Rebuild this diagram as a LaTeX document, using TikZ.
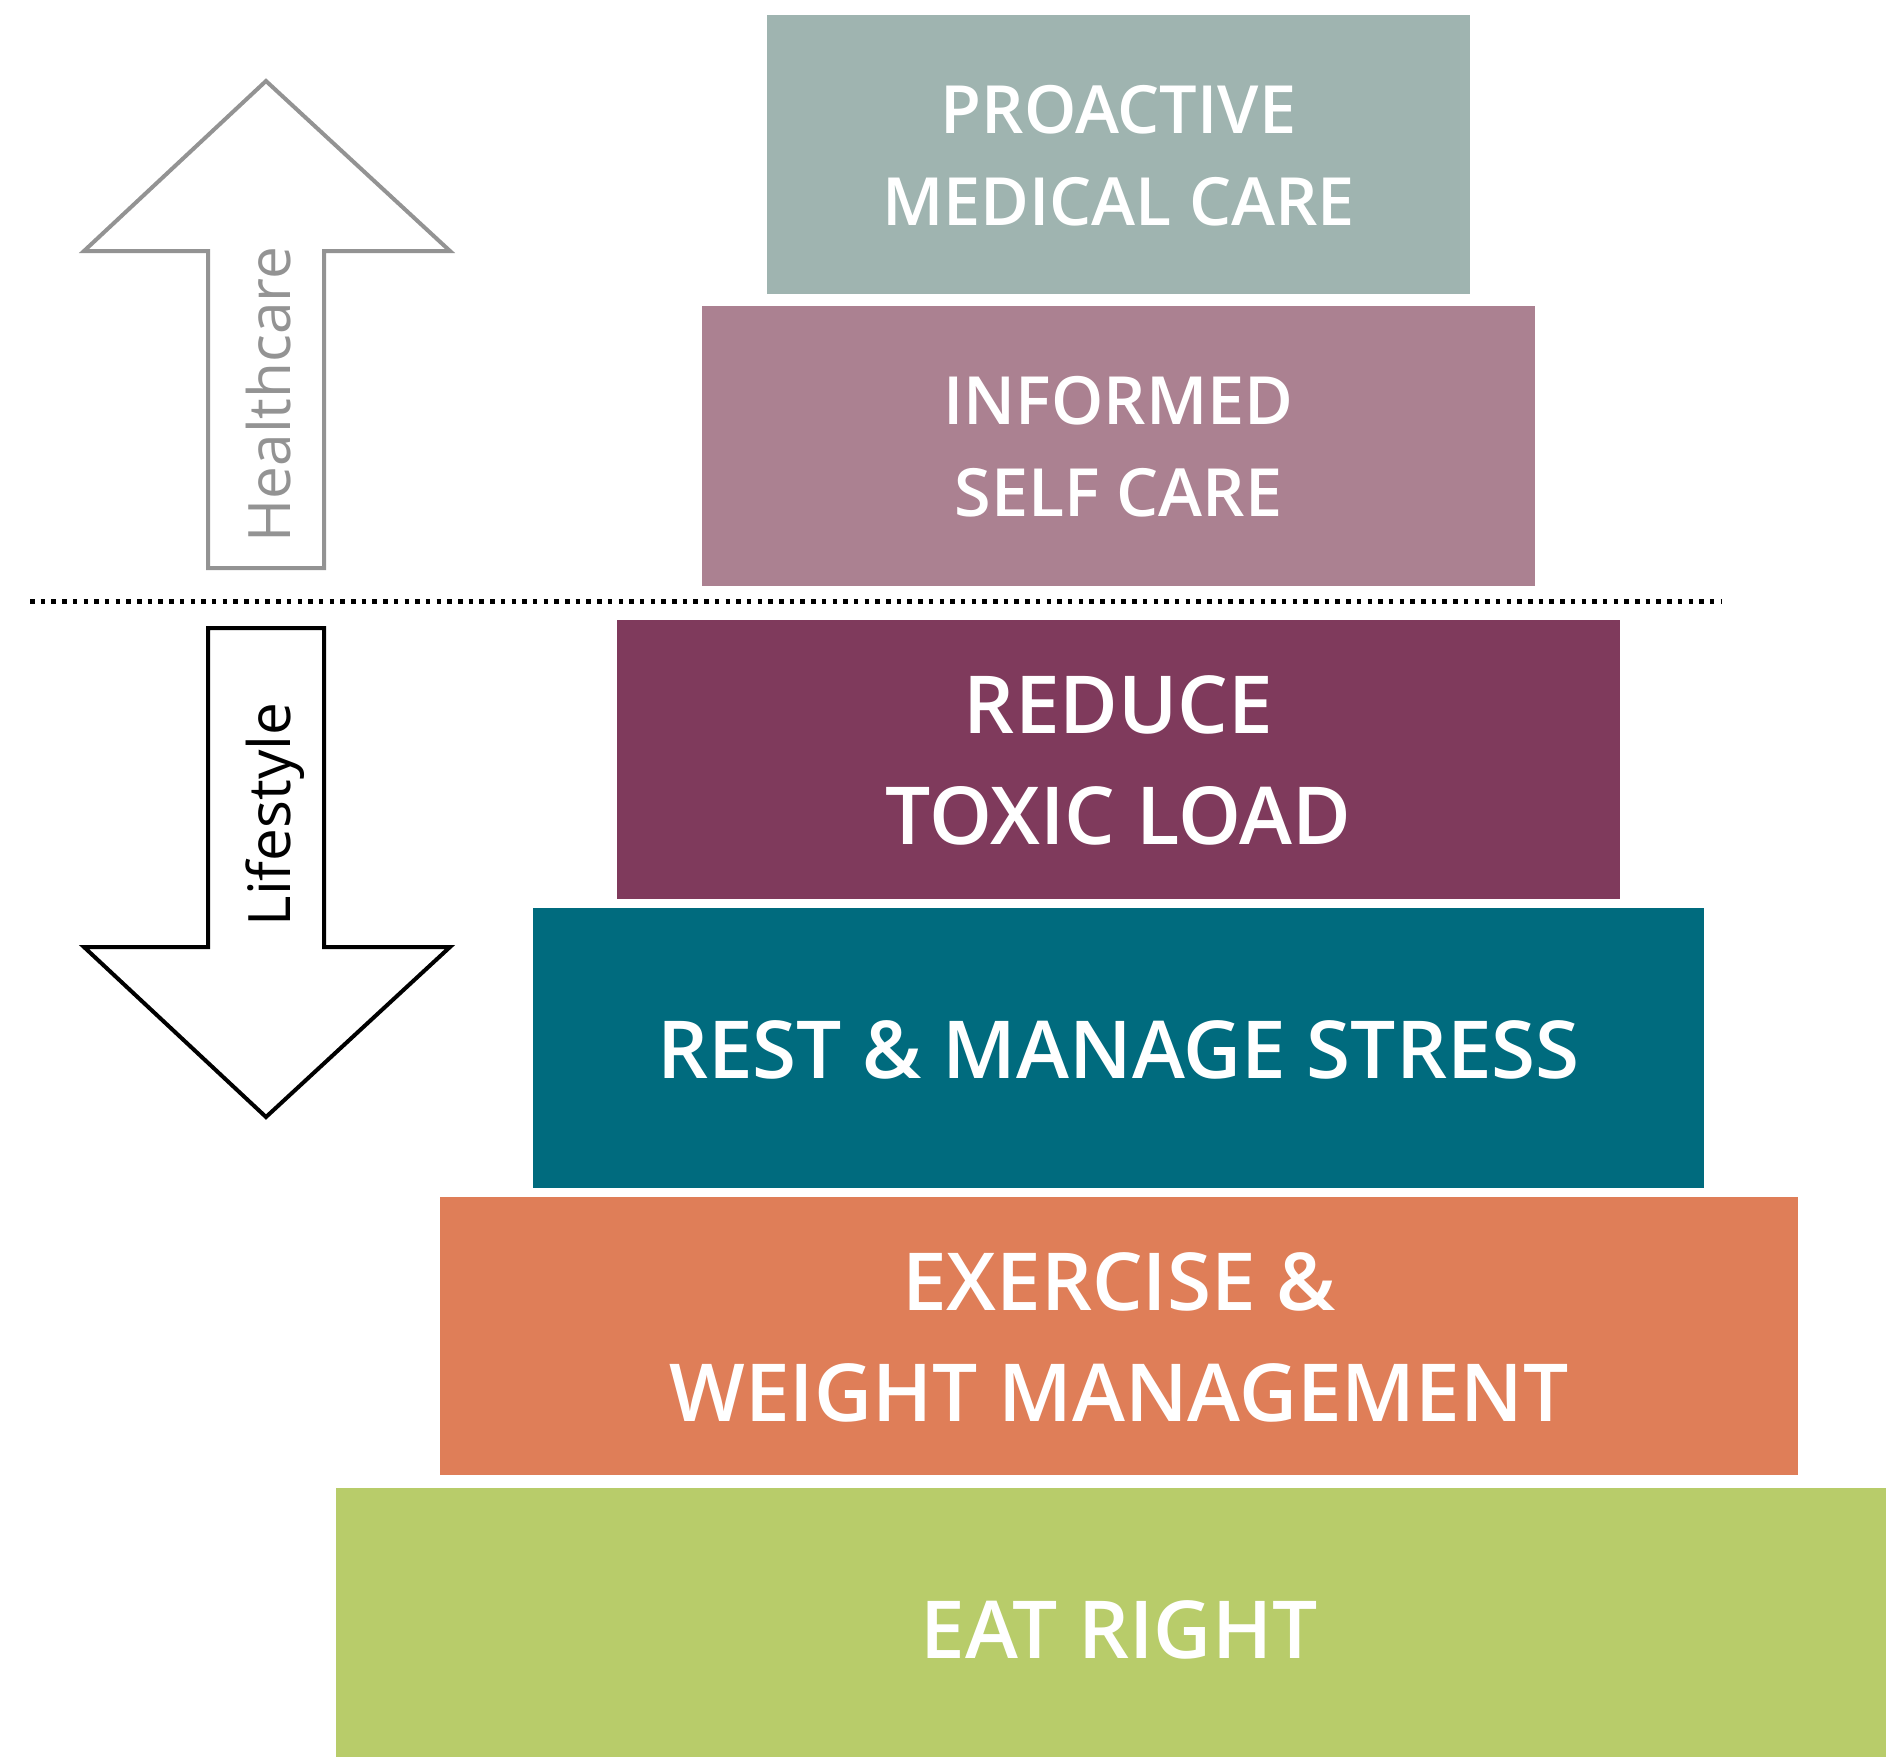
\documentclass[tikz,border=0pt]{standalone}
\usepackage{fontspec}
\setmainfont{Open Sans}
% semibold face for the tier captions, with bold as the last resort
\IfFontExistsTF{Open Sans Semibold}{\newfontfamily\semib{Open Sans Semibold}}{%
 \IfFontExistsTF{OpenSans-Semibold.ttf}{\newfontfamily\semib{OpenSans-Semibold.ttf}}{%
  \IfFontExistsTF{OpenSans-SemiBold.ttf}{\newfontfamily\semib{OpenSans-SemiBold.ttf}}{%
   \IfFontExistsTF{OpenSans-Semibold.otf}{\newfontfamily\semib{OpenSans-Semibold.otf}}{%
    \newcommand\semib{\bfseries}}}}}
\definecolor{cproactive}{HTML}{9FB4B0}
\definecolor{cinformed}{HTML}{AB8191}
\definecolor{creduce}{HTML}{7F3A5C}
\definecolor{crest}{HTML}{006B7E}
\definecolor{cexercise}{HTML}{DF7E58}
\definecolor{ceat}{HTML}{B8CC6A}
\definecolor{cgrayarrow}{HTML}{939393}
\begin{document}
\begin{tikzpicture}[x=1pt,y=-1pt,
  tier/.style={rectangle, inner sep=0pt, outer sep=0pt, text=white, align=center},
  caption/.style={inner sep=0pt, outer sep=0pt, text=white, align=center},
  smallcap/.style={caption, font=\semib\fontsize{66.5}{92}\selectfont},
  bigcap/.style={caption, font=\semib\fontsize{80}{111}\selectfont},
  sidelabel/.style={rotate=90, anchor=base, inner sep=0pt, font=\fontsize{58.5}{62}\selectfont},
  bigarrow/.style={line width=4pt, fill=white, line join=miter},
  divider/.style={line width=5pt, dash pattern=on 4.5pt off 6.2pt}]
\useasboundingbox (0,0) rectangle (1886,1757);

% pyramid tiers
\node[tier, fill=cproactive, minimum width=703pt, minimum height=279pt] (proactive) at (1118.5,154.5) {};
\node[tier, fill=cinformed, minimum width=833pt, minimum height=280pt] (informed) at (1118.5,446) {};
\node[tier, fill=creduce, minimum width=1003pt, minimum height=279pt] (reduce) at (1118.5,759.5) {};
\node[tier, fill=crest, minimum width=1171pt, minimum height=280pt] (rest) at (1118.5,1048) {};
\node[tier, fill=cexercise, minimum width=1358pt, minimum height=278pt] (exercise) at (1119,1336) {};
\node[tier, fill=ceat, minimum width=1550pt, minimum height=269pt] (eat) at (1111,1622.5) {};

% tier captions
\node[smallcap] (proactivetext) at (1118.5,156) {PROACTIVE\\MEDICAL CARE};
\node[smallcap] (informedtext) at (1118.5,446.5) {INFORMED\\SELF CARE};
\node[bigcap] (reducetext) at (1118.5,760.5) {REDUCE\\TOXIC LOAD};
\node[bigcap] (resttext) at (1118.5,1049.5) {REST \& MANAGE STRESS};
\node[bigcap] (exercisetext) at (1119,1337) {EXERCISE \&\\WEIGHT MANAGEMENT};
\node[bigcap] (eattext) at (1119,1630) {EAT RIGHT};

% divider between healthcare and lifestyle
\coordinate (divL) at (30,601);
\coordinate (divR) at (1722,601);
\draw[divider] (divL) -- (divR);

% healthcare arrow (up)
\draw[bigarrow, draw=cgrayarrow] (266,81) -- (450,251) -- (324,251) -- (324,568) -- (208,568) -- (208,251) -- (84,251) -- cycle;
\node[sidelabel, text=cgrayarrow] (health) at (290,394.5) {Healthcare};

% lifestyle arrow (down)
\draw[bigarrow, draw=black] (208,628) -- (324,628) -- (324,947) -- (450,947) -- (266,1117) -- (84,947) -- (208,947) -- cycle;
\node[sidelabel, text=black] (life) at (290,814.5) {Lifestyle};
\end{tikzpicture}
\end{document}
